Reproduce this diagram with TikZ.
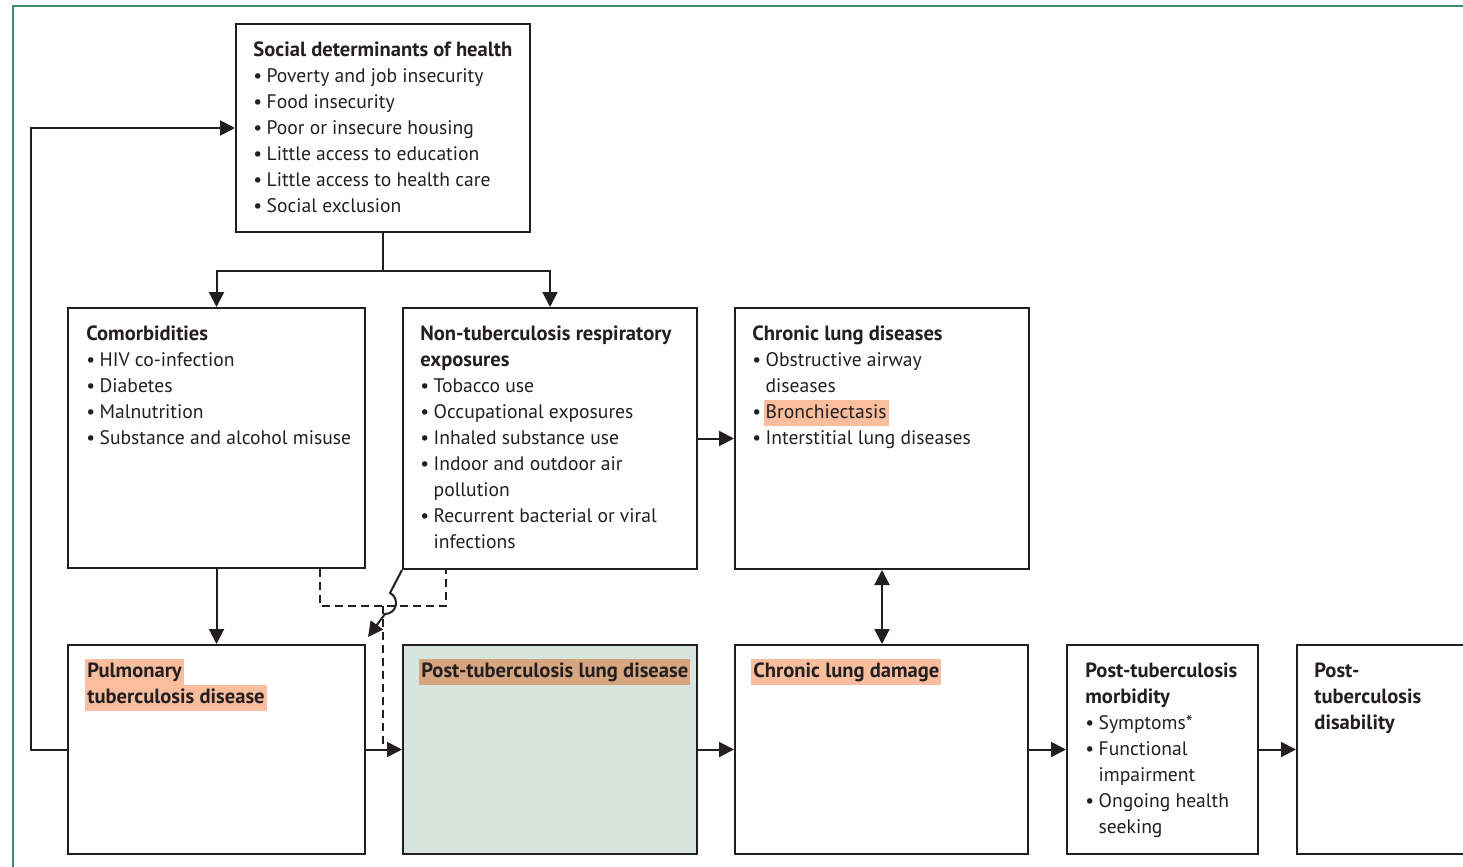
\documentclass[tikz,border=0pt]{standalone}
\usepackage{fontspec}
\setmainfont{PT Sans}[BoldFeatures={Scale=1.05}]
\usepackage{xcolor}
\usepackage{tikz}
\usetikzlibrary{calc,positioning,arrows.meta}
\definecolor{framegreen}{RGB}{62,140,104}
\definecolor{hlorange}{RGB}{250,190,158}
\definecolor{hltan}{RGB}{214,166,128}
\definecolor{pldfill}{RGB}{214,229,222}
\definecolor{inkcolor}{RGB}{35,31,32}

\newcommand{\itemdot}{\textbullet\kern2.2pt}
\newcommand{\itemgap}{\hphantom{\textbullet\kern2.2pt}}
\newcommand{\hlbox}[2]{{\setlength{\fboxsep}{0pt}\kern-1pt\colorbox{#1}{\strut\kern1pt#2\kern1pt}}}

\begin{document}
\begin{tikzpicture}[
  x=0.5pt, y=-0.5pt,
  box/.style={draw=inkcolor, line width=1pt, inner sep=0pt},
  txt/.style={anchor=north west, inner sep=0pt, align=left,
    font=\fontsize{9.8}{13}\selectfont, text=inkcolor},
  arr/.style={draw=inkcolor, line width=1pt, -{Triangle[length=7.5pt,width=7.5pt]}},
  arrboth/.style={draw=inkcolor, line width=1pt,
    {Triangle[length=7.5pt,width=7.5pt]}-{Triangle[length=7.5pt,width=7.5pt]}},
  dashlink/.style={draw=inkcolor, line width=0.9pt, dash pattern=on 4pt off 2.5pt},
]
  \useasboundingbox (0,0) rectangle (1463,867);

  % Frame
  \draw[framegreen, line width=1pt] (13,880) -- (13,6) -- (1480,6);

  % Top row
  \node[box, minimum width=147pt, minimum height=104pt] (soc) at (383,128) {};
  \node[txt] (socT) at ($(soc.north west)+(18,15)$) {\strut\textbf{Social determinants of health}\\
    \itemdot Poverty and job insecurity\\
    \itemdot Food insecurity\\
    \itemdot Poor or insecure housing\\
    \itemdot Little access to education\\
    \itemdot Little access to health care\\
    \itemdot Social exclusion};

  % Middle row
  \node[box, minimum width=148.5pt, minimum height=130pt] (como) at (216.5,438) {};
  \node[txt] (comoT) at ($(como.north west)+(19,15)$) {\strut\textbf{Comorbidities}\\
    \itemdot HIV co-infection\\
    \itemdot Diabetes\\
    \itemdot Malnutrition\\
    \itemdot Substance and alcohol misuse};

  \node[box, minimum width=147pt, minimum height=130.5pt] (nontb) at (550,438.5) {};
  \node[txt] (nontbT) at ($(nontb.north west)+(18,15)$) {\strut\textbf{Non-tuberculosis respiratory}\\
    \textbf{exposures}\\
    \itemdot Tobacco use\\
    \itemdot Occupational exposures\\
    \itemdot Inhaled substance use\\
    \itemdot Indoor and outdoor air\\
    \itemgap pollution\\
    \itemdot Recurrent bacterial or viral\\
    \itemgap infections};

  \node[box, minimum width=147pt, minimum height=130.5pt] (cld) at (882,438.5) {};
  \node[txt] (cldT) at ($(cld.north west)+(18,15)$) {\strut\textbf{Chronic lung diseases}\\
    \itemdot Obstructive airway\\
    \itemgap diseases\\
    \itemdot \hlbox{hlorange}{Bronchiectasis}\\
    \itemdot Interstitial lung diseases};

  % Bottom row
  \node[box, minimum width=148.5pt, minimum height=104.5pt] (ptb) at (216.5,749.5) {};
  \node[txt] (ptbT) at ($(ptb.north west)+(20,15)$) {\hlbox{hlorange}{\textbf{Pulmonary}}\\
    \hlbox{hlorange}{\textbf{tuberculosis disease}}};

  \node[box, fill=pldfill, minimum width=147pt, minimum height=104.5pt] (pld) at (550,749.5) {};
  \node[txt] (pldT) at ($(pld.north west)+(19,15)$) {\hlbox{hltan}{\textbf{Post-tuberculosis lung disease}}};

  \node[box, minimum width=146.5pt, minimum height=104.5pt] (dmg) at (881.5,749.5) {};
  \node[txt] (dmgT) at ($(dmg.north west)+(19,15)$) {\hlbox{hlorange}{\textbf{Chronic lung damage}}};

  \node[box, minimum width=95.5pt, minimum height=104.5pt] (morb) at (1162.5,749.5) {};
  \node[txt] (morbT) at ($(morb.north west)+(19,15)$) {\strut\textbf{Post-tuberculosis}\\
    \textbf{morbidity}\\
    \itemdot Symptoms*\\
    \itemdot Functional\\
    \itemgap impairment\\
    \itemdot Ongoing health\\
    \itemgap seeking};

  \node[box, minimum width=95pt, minimum height=104.5pt] (dis) at (1392,749.5) {};
  \node[txt] (disT) at ($(dis.north west)+(18,15)$) {\strut\textbf{Post-}\\
    \textbf{tuberculosis}\\
    \textbf{disability}};

  % Connectors
  \coordinate (split) at ($(soc.south)+(0,38)$);
  \draw[draw=inkcolor, line width=1pt] (soc.south) -- (split);
  \draw[arr] (split) -| (como.north);
  \draw[arr] (split) -| (nontb.north);
  \draw[arr] (ptb.west) -- ++(-36,0) |- (soc.west);
  \draw[arr] (como.south) -- (ptb.north);
  \draw[arr] (nontb.east) -- (cld.west);
  \draw[arrboth] (cld.south) -- (cld.south |- dmg.north);
  \draw[arr] (ptb.east) -- (pld.west);
  \draw[arr] (pld.east) -- (dmg.west);
  \draw[arr] (dmg.east) -- (morb.west);
  \draw[arr] (morb.east) -- (dis.west);

  % Dashed links
  \coordinate (dashL) at (320,606);
  \coordinate (dashR) at (446,606);
  \coordinate (dashM) at (383,606);
  \draw[dashlink] (dashL |- como.south) -- (dashL) -- (dashR) -- (dashR |- nontb.south);
  \draw[dashlink] (dashM) -- (dashM |- ptb.east);

  % Crossing link with hop
  \coordinate (hopin) at (390,593);
  \coordinate (hopout) at (385,614);
  \draw[arr] (nontb.south west) -- (hopin) .. controls (400,598) and (397,614) .. (hopout)
    -- ($(ptb.north east)+(2,-7)$);
\end{tikzpicture}
\end{document}
